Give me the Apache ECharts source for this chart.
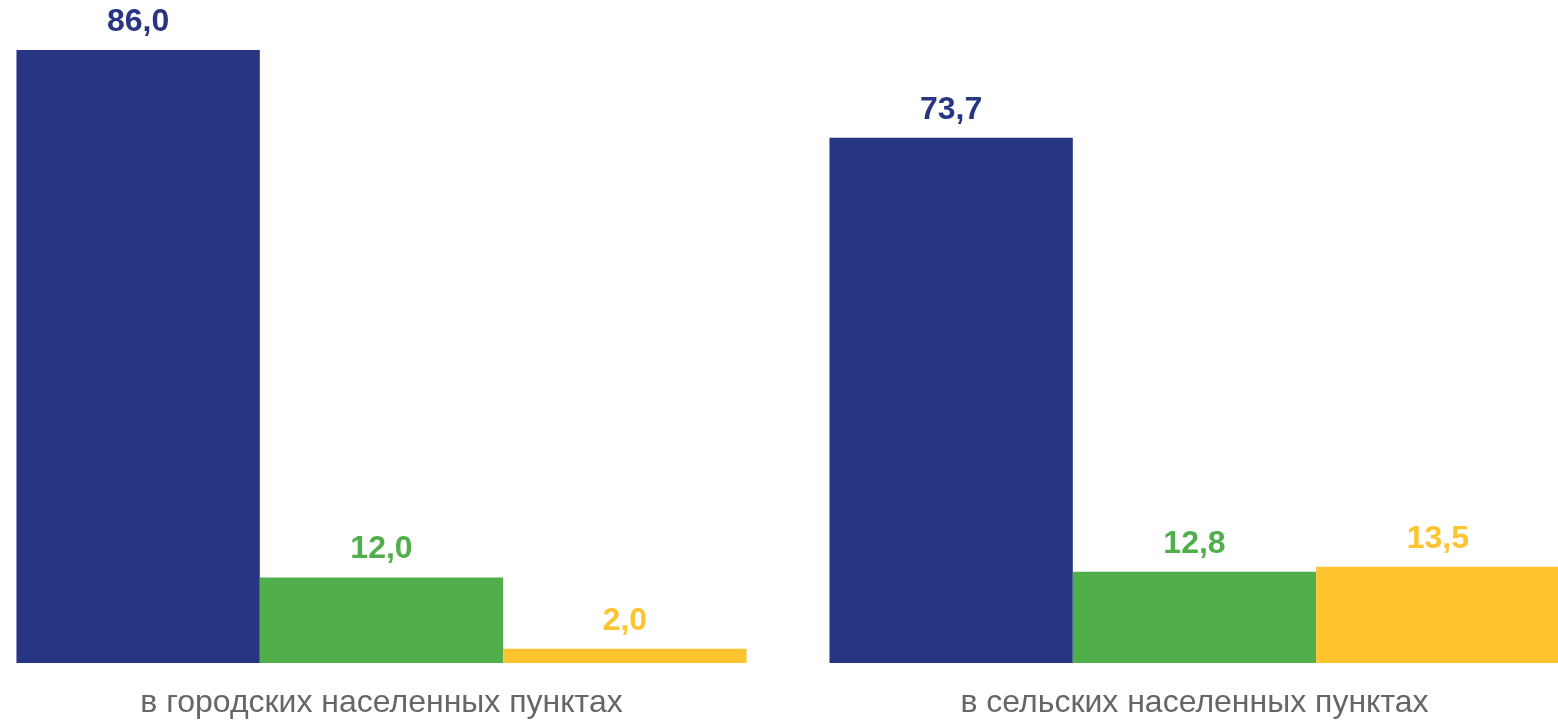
<!DOCTYPE html>
<html>
<head>
<meta charset="utf-8">
<script src="https://cdn.jsdelivr.net/npm/echarts@6/dist/echarts.min.js"></script>
<style>
html, body { margin: 0; padding: 0; background: #fff; overflow: hidden; width: 1558px; height: 721px; position: relative; }
#chart01 { width: 1626px; height: 721px; position: absolute; left: -25px; top: 0; }
</style>
</head>
<body>
<div id="chart01"></div>
<script>
var categories = ['в городских населенных пунктах', 'в сельских населенных пунктах'];
var seriesA = [86.0, 73.7];
var seriesB = [12.0, 12.8];
var seriesC = [2.0, 13.5];
var colors = ['#283583', '#50AF4B', '#FFC32D'];

function fmt(p) {
    return p.value.toFixed(1).replace('.', ',');
}

function barSeries(name, data, color) {
    return {
        name: name,
        type: 'bar',
        data: data,
        barGap: 0,
        barCategoryGap: '10.2%',
        itemStyle: { color: color },
        label: {
            show: true,
            position: 'top',
            distance: 12,
            formatter: fmt,
            color: color,
            fontFamily: 'Liberation Sans',
            fontWeight: 'bold',
            fontSize: 32
        }
    };
}

var myChart = echarts.init(document.getElementById('chart01'));
var option = {
    animation: false,
    grid: {
        left: 0,
        right: 0,
        top: 50,
        bottom: 58
    },
    xAxis: {
        type: 'category',
        data: categories,
        axisLine: { show: false },
        axisTick: { show: false },
        axisLabel: {
            margin: 24,
            color: '#666666',
            fontFamily: 'Liberation Sans',
            fontSize: 32
        }
    },
    yAxis: {
        type: 'value',
        min: 0,
        max: 86,
        show: false
    },
    series: [
        barSeries('s1', seriesA, colors[0]),
        barSeries('s2', seriesB, colors[1]),
        barSeries('s3', seriesC, colors[2])
    ]
};
myChart.setOption(option, true);
</script>
</body>
</html>
